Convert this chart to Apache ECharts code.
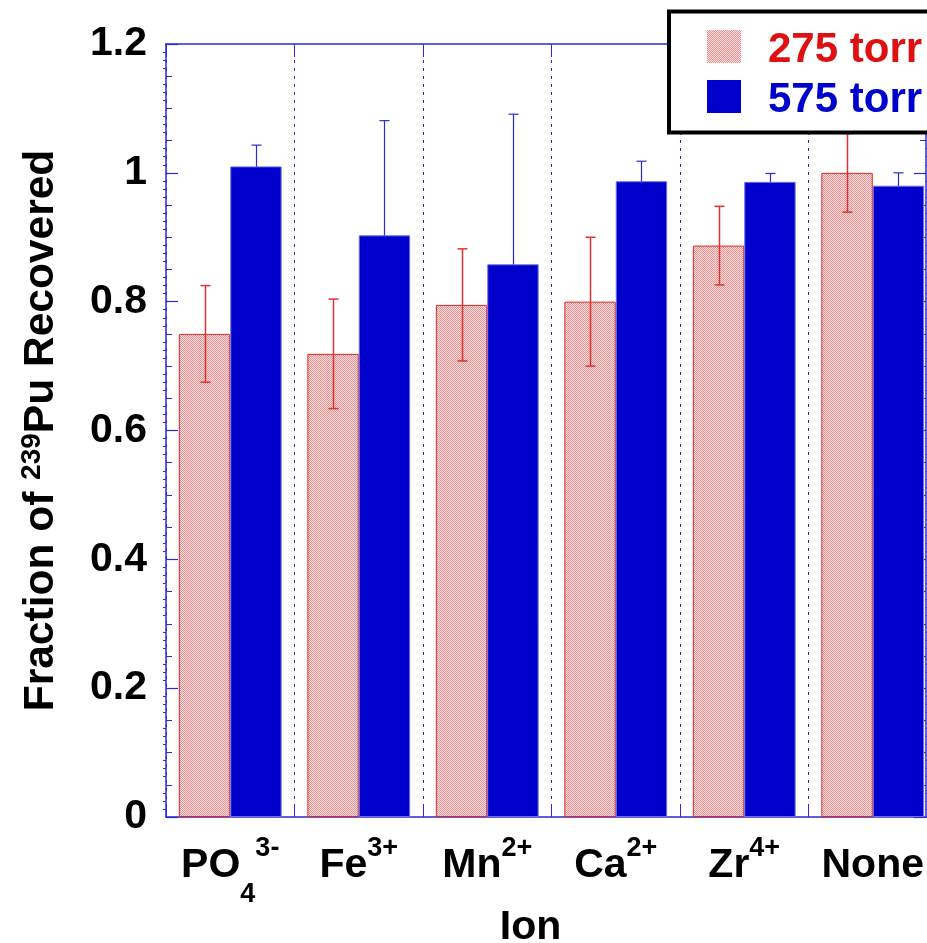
<!DOCTYPE html>
<html>
<head>
<meta charset="utf-8">
<script src="https://cdn.jsdelivr.net/npm/echarts@6/dist/echarts.min.js"></script>
<style>
  html, body { margin: 0; padding: 0; background: #ffffff; }
  #chart { width: 927px; height: 943px; }
</style>
</head>
<body>
<div id="chart"></div>
<script>
// Ion labels (rich text: m = main, b = subscript, p = superscript)
const ionLabels = ['{m|PO}{b|4}{p|3-}', '{m|Fe}{p|3+}', '{m|Mn}{p|2+}', '{m|Ca}{p|2+}', '{m|Zr}{p|4+}', '{m|None}'];

// Fraction recovered at 275 torr and its uncertainty
const low275 = [0.750, 0.719, 0.795, 0.800, 0.887, 1.000];
const low275Err = [0.075, 0.085, 0.087, 0.100, 0.061, 0.061];

// Fraction recovered at 575 torr and its uncertainty
const high575 = [1.010, 0.903, 0.858, 0.987, 0.986, 0.980];
const high575Err = [0.033, 0.178, 0.233, 0.031, 0.013, 0.020];

const yTicks = [0, 0.2, 0.4, 0.6, 0.8, 1, 1.2];

const FONT = '"Liberation Sans", Arial, Helvetica, sans-serif';
const AXIS_BLUE = '#2a2ad6';
const RED = '#dd1111';
const BLUE = '#0000cc';

// fine red/white dither used to fill the 275 torr bars
function ditherPattern() {
  const c = document.createElement('canvas');
  c.width = 2; c.height = 2;
  const g = c.getContext('2d');
  g.fillStyle = '#fbe4e4'; g.fillRect(0, 0, 2, 2);
  g.fillStyle = '#ec8c8c'; g.fillRect(0, 0, 1, 1); g.fillRect(1, 1, 1, 1);
  return { image: c, repeat: 'repeat' };
}

// vertical error bar with caps, centred on a bar of the grouped layout
function errorBars(name, vals, errs, shift, color, width, z) {
  return {
    type: 'custom',
    name: name,
    z: z,
    silent: true,
    encode: { x: 0, y: 1 },
    data: vals.map((v, i) => [i, v, errs[i]]),
    renderItem: function (params, api) {
      const i = api.value(0), v = api.value(1), e = api.value(2);
      const band = api.size([1, 0])[0];
      const top = api.coord([i, v + e]);
      const bot = api.coord([i, v - e]);
      const x = Math.round(top[0] + shift * band) + 0.5;
      const cap = 5;
      const st = { stroke: color, lineWidth: width };
      return {
        type: 'group',
        children: [
          { type: 'line', shape: { x1: x, y1: top[1], x2: x, y2: bot[1] }, style: st },
          { type: 'line', shape: { x1: x - cap, y1: top[1], x2: x + cap, y2: top[1] }, style: st },
          { type: 'line', shape: { x1: x - cap, y1: bot[1], x2: x + cap, y2: bot[1] }, style: st }
        ]
      };
    }
  };
}

const chart = echarts.init(document.getElementById('chart'), null, { renderer: 'canvas' });

const valueAxisBase = { type: 'value', min: 0, max: 1.2, splitLine: { show: false } };
const legendFont = { fontFamily: FONT, fontWeight: 'bold', fontSize: 42, padding: [8, 0, 0, 0] };

const option = {
  backgroundColor: '#ffffff',
  animation: false,
  textStyle: { fontFamily: FONT },
  grid: { left: 166, top: 44, width: 771, height: 773, containLabel: false, outerBoundsMode: 'none' },
  legend: {
    data: ['275 torr', '575 torr'],
    formatter: name => (name === '275 torr' ? '{r|' : '{b|') + name + '}',
    orient: 'vertical',
    left: 669,
    top: 11.5,
    padding: [10, 40, 11, 38],
    itemWidth: 34,
    itemHeight: 33,
    itemGap: 0,
    icon: 'rect',
    borderColor: '#000000',
    borderWidth: 4,
    backgroundColor: '#ffffff',
    z: 10,
    itemStyle: { borderWidth: 0 },
    textStyle: {
      fontFamily: FONT, fontWeight: 'bold', fontSize: 42,
      padding: [0, 0, 0, 22],
      rich: {
        r: Object.assign({ color: RED, lineHeight: 42 }, legendFont),
        b: Object.assign({ color: BLUE, lineHeight: 42 }, legendFont)
      }
    }
  },
  xAxis: [
    {
      type: 'category',
      position: 'bottom',
      data: ionLabels,
      boundaryGap: true,
      axisLine: { onZero: false, lineStyle: { color: AXIS_BLUE, width: 1.5 } },
      axisTick: { show: true, inside: true, length: 13, interval: 0, lineStyle: { color: AXIS_BLUE, width: 1 } },
      splitLine: { show: true, interval: 0, lineStyle: { color: AXIS_BLUE, width: 1, type: [3, 5] } },
      axisLabel: {
        interval: 0,
        margin: 4,
        formatter: v => v,
        rich: {
          m: { fontFamily: FONT, fontWeight: 'bold', fontSize: 41, color: '#000', lineHeight: 90 },
          p: { fontFamily: FONT, fontWeight: 'bold', fontSize: 27, color: '#000', verticalAlign: 'top', padding: [14, 0, 0, 0] },
          b: { fontFamily: FONT, fontWeight: 'bold', fontSize: 27, color: '#000', verticalAlign: 'bottom', padding: [0, 0, 3, 0] }
        }
      },
      name: 'Ion',
      nameLocation: 'middle',
      nameGap: 86,
      nameMoveOverlap: false,
      nameTextStyle: { fontFamily: FONT, fontWeight: 'bold', fontSize: 41, color: '#000', lineHeight: 50, padding: [0, 42, 0, 0] }
    },
    {
      type: 'category',
      position: 'top',
      data: ionLabels,
      boundaryGap: true,
      axisLine: { onZero: false, lineStyle: { color: AXIS_BLUE, width: 1.5 } },
      axisTick: { show: true, inside: true, length: 13, interval: 0, lineStyle: { color: AXIS_BLUE, width: 1 } },
      axisLabel: { show: false },
      splitLine: { show: false }
    }
  ],
  yAxis: [
    Object.assign({}, valueAxisBase, {
      position: 'left',
      interval: 0.2,
      axisLine: { show: true, onZero: false, lineStyle: { color: AXIS_BLUE, width: 1.5 } },
      axisTick: { show: true, inside: true, length: 12, lineStyle: { color: AXIS_BLUE, width: 1.2 } },
      minorTick: { show: true, splitNumber: 4, length: 6, lineStyle: { color: AXIS_BLUE, width: 1 } },
      axisLabel: {
        margin: 19,
        fontFamily: FONT, fontWeight: 'bold', fontSize: 41, color: '#000',
        formatter: v => {
          const t = yTicks.find(k => Math.abs(k - v) < 1e-9);
          return t === undefined ? '' : String(t);
        }
      },
      name: '{m|Fraction of }{s|239}{m|Pu Recovered}',
      nameLocation: 'middle',
      nameRotate: 90,
      nameGap: 100,
      nameMoveOverlap: false,
      nameTextStyle: {
        rich: {
          m: { fontFamily: FONT, fontWeight: 'bold', fontSize: 42.5, color: '#000', lineHeight: 50 },
          s: { fontFamily: FONT, fontWeight: 'bold', fontSize: 28, color: '#000', verticalAlign: 'top', padding: [2, 0, 0, 0] }
        }
      }
    }),
    Object.assign({}, valueAxisBase, {
      position: 'left',
      interval: 0.05,
      axisLine: { show: false, onZero: false },
      axisTick: { show: false },
      minorTick: { show: true, splitNumber: 4, length: 3, lineStyle: { color: AXIS_BLUE, width: 1 } },
      axisLabel: { show: false }
    }),
    Object.assign({}, valueAxisBase, {
      position: 'right',
      offset: -11,
      interval: 0.2,
      axisLine: { show: true, onZero: false, lineStyle: { color: AXIS_BLUE, width: 1.5 } },
      axisTick: { show: true, inside: true, length: 12, lineStyle: { color: AXIS_BLUE, width: 1.2 } },
      minorTick: { show: true, splitNumber: 4, length: 6, lineStyle: { color: AXIS_BLUE, width: 1 } },
      axisLabel: { show: false }
    }),
    Object.assign({}, valueAxisBase, {
      position: 'right',
      offset: -11,
      interval: 0.05,
      axisLine: { show: false, onZero: false },
      axisTick: { show: false },
      minorTick: { show: true, splitNumber: 4, length: 3, lineStyle: { color: AXIS_BLUE, width: 1 } },
      axisLabel: { show: false }
    })
  ],
  series: [
    {
      name: '275 torr',
      type: 'bar',
      data: low275,
      barGap: 0,
      barCategoryGap: '20%',
      z: 2,
      itemStyle: { color: ditherPattern(), borderColor: '#e02424', borderWidth: 1 }
    },
    {
      name: '575 torr',
      type: 'bar',
      data: high575,
      barGap: 0,
      barCategoryGap: '20%',
      z: 2,
      itemStyle: { color: BLUE, borderColor: '#6f6fe6', borderWidth: 1 }
    },
    errorBars('275 torr error', low275, low275Err, -0.2, '#e23030', 1.5, 4),
    errorBars('575 torr error', high575, high575Err, 0.2, '#2a2ad8', 1.2, 1)
  ]
};

chart.setOption(option);
</script>
</body>
</html>
